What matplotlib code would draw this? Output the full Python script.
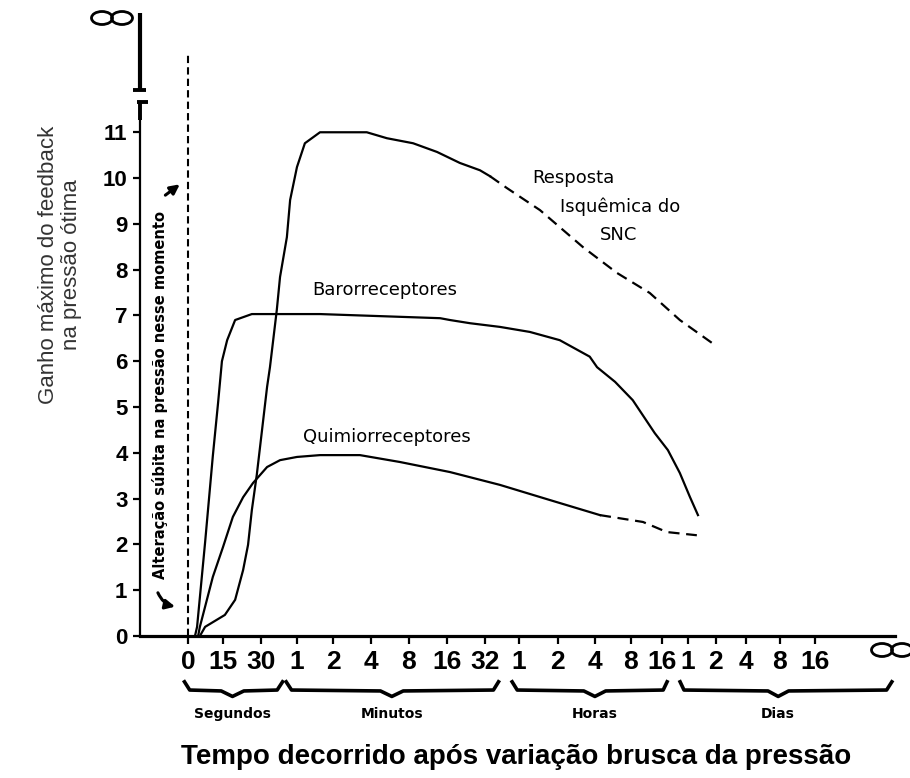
import matplotlib
matplotlib.use("Agg")
import matplotlib.pyplot as plt
import numpy as np
from matplotlib.patches import Ellipse

# time axis: seconds, minutes, hours, days
time_labels = ["0", "15", "30",
               "1", "2", "4", "8", "16", "32",
               "1", "2", "4", "8", "16",
               "1", "2", "4", "8", "16"]
unit_names = ["Segundos", "Minutos", "Horas", "Dias"]
gain_ticks = list(range(12))

# x = position on the time axis in tick units (0 = moment of the pressure change)
baro_t = [0.20, 0.26, 0.49, 0.71, 0.86, 0.97, 1.11, 1.32, 1.76, 2.53, 3.64, 4.71, 6.82,
          7.08, 7.61, 8.44, 9.28, 10.05, 10.86, 11.06, 11.56, 12.06, 12.77, 13.23,
          13.69, 14.07, 14.36]
baro_gain = [0.0, 0.2, 2.05, 3.93, 5.09, 6.0, 6.46, 6.9, 7.03, 7.03, 7.03, 7.0, 6.94,
             6.9, 6.83, 6.75, 6.64, 6.46, 6.1, 5.87, 5.55, 5.15, 4.43, 4.06,
             3.56, 3.04, 2.64]

cns_t = [0.34, 0.49, 1.05, 1.32, 1.53, 1.66, 1.76, 1.89, 2.03, 2.17, 2.25, 2.44, 2.53,
         2.72, 2.81, 3.00, 3.22, 3.64, 4.89, 5.42, 6.11, 6.74, 7.34, 7.87, 8.15]
cns_gain = [0.0, 0.2, 0.46, 0.79, 1.44, 1.99, 2.75, 3.52, 4.5, 5.44, 5.87, 7.12, 7.84,
            8.71, 9.52, 10.24, 10.76, 11.0, 11.0, 10.87, 10.76, 10.57, 10.33, 10.17, 10.04]
cns_tail_t = [8.15, 8.65, 9.54, 10.68, 11.61, 12.61, 13.69, 14.86]
cns_tail_gain = [10.04, 9.78, 9.3, 8.49, 7.93, 7.49, 6.9, 6.4]

chemo_t = [0.29, 0.34, 0.71, 1.00, 1.26, 1.53, 1.79, 2.17, 2.53, 3.00, 3.64, 4.71,
           5.76, 7.08, 8.44, 9.79, 11.14]
chemo_gain = [0.0, 0.2, 1.29, 1.94, 2.6, 3.03, 3.34, 3.69, 3.84, 3.91, 3.95, 3.95,
              3.8, 3.58, 3.3, 2.97, 2.64]
chemo_tail_t = [11.14, 12.39, 13.19, 14.32]
chemo_tail_gain = [2.64, 2.49, 2.27, 2.2]

# uneven spacing of the time labels along the axis
label_pos = [0, 35, 73, 109, 145, 183, 221, 259, 297, 331, 370, 407, 443, 474,
             500, 528, 558, 592, 627]
idx_ext = np.arange(-3, 22)
pos_ext = np.array([-105, -70, -35] + label_pos + [662, 697, 732], dtype=float)

# brace spans (tick units) under each group of labels
brace_spans = [(-0.1, 2.6), (2.7, 8.4), (8.8, 13.2), (13.7, 20.2)]

W, H = 910, 778
plt.rcParams["font.family"] = ["DejaVu Sans"]
fig = plt.figure(figsize=(W / 100, H / 100), dpi=100)
ax = fig.add_axes([140 / W, 1 - 636 / H, 755 / W, 626 / H])
ax.set_xscale("function", functions=(lambda x: np.interp(x, idx_ext, pos_ext),
                                     lambda p: np.interp(p, pos_ext, idx_ext)))
ax.set_xlim(-1.371, 20.29)
ax.set_ylim(0, 13.67)

for s in ("top", "right"):
    ax.spines[s].set_visible(False)
ax.spines["left"].set_bounds(0, 11.66)
ax.spines["left"].set_linewidth(1.6)
ax.spines["bottom"].set_linewidth(2.3)

ax.set_xticks(range(len(time_labels)))
ax.set_xticklabels(time_labels)
ax.set_yticks(gain_ticks)
ax.set_yticklabels([str(g) for g in gain_ticks])
ax.xaxis.set_minor_locator(matplotlib.ticker.NullLocator())
ax.yaxis.set_minor_locator(matplotlib.ticker.NullLocator())
ax.tick_params(axis="x", length=6, width=1.6, pad=4)
ax.tick_params(axis="y", length=5, width=1.6, pad=4)
for lab in ax.get_xticklabels():
    lab.set_fontfamily("Liberation Sans")
    lab.set_fontweight("bold")
    lab.set_fontsize(19)
for lab in ax.get_yticklabels():
    lab.set_fontfamily("Liberation Sans")
    lab.set_fontweight("bold")
    lab.set_fontsize(16)

# broken upper part of the gain axis (towards infinity)
yt = ax.get_yaxis_transform()
kw = dict(transform=yt, color="black", clip_on=False, solid_capstyle="butt")
ax.plot([0, 0], [11.92, 13.6], lw=3.0, **kw)
ax.plot([0, 0], [11.27, 11.66], lw=2.8, **kw)
ax.plot([-0.0093, 0.0079], [11.92, 11.92], lw=2.8, **kw)
ax.plot([-0.004, 0.011], [11.66, 11.66], lw=2.8, **kw)


def infinity(cx, cy):
    for dx in (-10, 10):
        fig.add_artist(Ellipse(((cx + dx) / W, 1 - cy / H), 21 / W, 13 / H,
                               transform=fig.transFigure, fill=False,
                               lw=2, edgecolor="black"))


infinity(112, 18)
infinity(892, 650)

# moment of the sudden pressure change
ax.plot([0, 0], [0, 12.69], color="black", lw=1.5, dashes=(3.5, 2))
ax.text(-0.8, 5.26, "Alteração súbita na pressão nesse momento", rotation=90,
        ha="center", va="center", fontsize=10.5, fontweight="bold")
arrow = dict(arrowstyle="-|>", lw=2.2, color="black", mutation_scale=14)
ax.annotate("", xy=(-0.17, 9.9), xytext=(-0.71, 9.59), arrowprops=arrow)
ax.annotate("", xy=(-0.29, 0.63), xytext=(-0.89, 1.0),
            arrowprops=dict(arrow, connectionstyle="arc3,rad=0.3"))

# feedback curves
lw = 1.6
ax.plot(baro_t, baro_gain, color="black", lw=lw)
ax.plot(cns_t, cns_gain, color="black", lw=lw)
ax.plot(cns_tail_t, cns_tail_gain, color="black", lw=lw, dashes=(5, 3))
ax.plot(chemo_t, chemo_gain, color="black", lw=lw)
ax.plot(chemo_tail_t, chemo_tail_gain, color="black", lw=lw, dashes=(5, 3))

ax.text(9.33, 10.0, "Resposta", fontsize=13, va="center", ha="left")
ax.text(10.05, 9.37, "Isquêmica do", fontsize=13, va="center", ha="left")
ax.text(11.14, 8.76, "SNC", fontsize=13, va="center", ha="left")
ax.text(3.42, 7.55, "Barorreceptores", fontsize=13, va="center", ha="left")
ax.text(3.17, 4.34, "Quimiorreceptores", fontsize=13, va="center", ha="left")

# braces grouping the time units
for name, (x0, x1) in zip(unit_names, brace_spans):
    xc = (x0 + x1) / 2
    bx = [x0, x0 + 0.15, xc - 0.3, xc, xc + 0.3, x1 - 0.15, x1]
    by = [-1.0, -1.18, -1.2, -1.32, -1.2, -1.18, -1.0]
    ax.plot(bx, by, color="black", lw=2.6, clip_on=False)
    ax.text(xc, -1.7, name, ha="center", va="center", fontsize=10, fontweight="bold")

fig.text(60 / W, 1 - 265 / H, "Ganho máximo do feedback\nna pressão ótima",
         rotation=90, ha="center", va="center", fontsize=16, color="#333333",
         family="Liberation Sans", linespacing=1.1, multialignment="center")
fig.text(516 / W, 1 - 757 / H, "Tempo decorrido após variação brusca da pressão",
         ha="center", va="center", fontsize=20, fontweight="bold",
         family="Liberation Sans")

fig.savefig("out.png", dpi=100)
